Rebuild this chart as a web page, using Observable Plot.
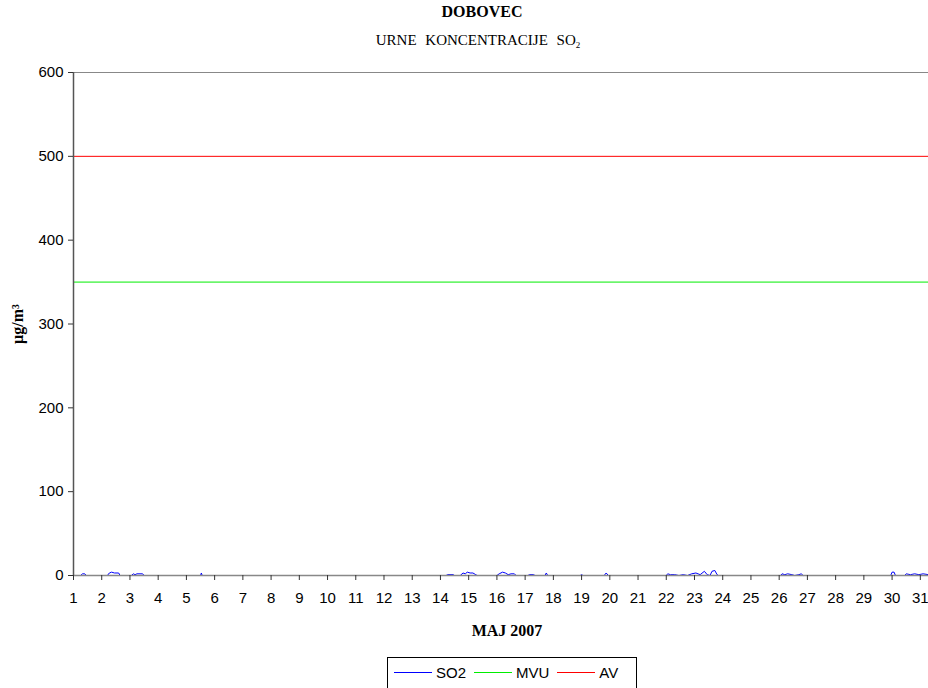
<!DOCTYPE html>
<html>
<head>
<meta charset="utf-8">
<script src="https://cdn.jsdelivr.net/npm/d3@7"></script>
<script src="https://cdn.jsdelivr.net/npm/@observablehq/plot@0.6"></script>
<style>
  html, body { margin: 0; padding: 0; background: #fff; width: 928px; overflow: hidden; }
  #head { height: 56px; position: relative; font-family: "Liberation Serif", serif; color: #000; }
  #t1 { position: absolute; left: 0; width: 964px; top: 3px; text-align: center; font-weight: bold; font-size: 16px; }
  #t2 { position: absolute; left: 0; width: 956px; top: 32px; text-align: center; font-size: 15px; word-spacing: 5px; }
  #t2 sub { font-size: 9px; vertical-align: -3px; }
  #chart svg { display: block; }
  #legend { position: relative; margin-left: 387px; margin-top: 7px; width: 250px; height: 40px; border: 1px solid #000; box-sizing: border-box;
            font-family: "Liberation Sans", Arial, sans-serif; font-size: 15px; display: flex; align-items: flex-start; padding-top: 6px; padding-left: 6px; }
  .item { display: flex; align-items: center; margin-right: 8px; }
  .sw { width: 38px; height: 0; border-top: 1px solid; margin-right: 4px; }
</style>
</head>
<body>
<div id="head">
  <div id="t1">DOBOVEC</div>
  <div id="t2">URNE KONCENTRACIJE SO<sub>2</sub></div>
</div>
<div id="chart"></div>
<div id="legend"></div>
<script>
// ---- data ----
const dayTicks = d3.range(1, 32);
const yTicks = [0, 100, 200, 300, 400, 500, 600];
const limitNames = ["MVU", "AV"];
const limitValues = [350, 500];
const limitColors = ["#00ee00", "#ff0000"];
const seriesNames = ["SO2", "MVU", "AV"];
const seriesColors = ["#0000ff", "#00ee00", "#ff0000"];

// hourly SO2 (day position within May 2007, µg/m3)
const so2Days = [1.00,1.25,1.32,1.40,1.45,2.20,2.27,2.35,2.45,2.60,2.65,3.05,3.12,3.18,3.25,3.45,3.50,5.50,5.53,5.56,
  14.20,14.25,14.45,14.50,14.70,14.80,14.88,14.95,15.05,15.15,15.25,15.30,16.00,16.08,16.20,16.30,16.40,16.50,16.62,16.68,
  17.10,17.15,17.30,17.35,17.70,17.75,17.80,18.95,19.00,19.05,19.80,19.87,19.95,
  22.00,22.05,22.15,22.30,22.45,22.60,22.75,22.90,23.05,23.20,23.35,23.45,23.55,23.62,23.72,23.80,23.85,
  26.05,26.10,26.20,26.30,26.45,26.55,26.70,26.78,26.85,29.95,30.00,30.07,30.12,30.45,30.50,30.65,30.80,30.95,31.10,31.29];
const so2Values = [0,0,2,2,0,0,3,4,3,3,0,0,2,1,2,2,0,0,3,0,
  0,1,1,0,0,3,2,4,3,3,1,0,0,2,4,3,1,2,2,0,
  0,1,1,0,0,3,0,0,1,0,0,3,0,
  0,2,1,1,0,1,0,2,3,1,5,1,0,5,6,1,0,
  0,2,1,2,1,0,1,2,0,0,4,4,0,0,2,1,2,1,2,1];

const so2 = so2Days.map((d, i) => ({day: d, value: so2Values[i]}));
const limits = limitNames.map((n, i) => ({name: n, value: limitValues[i], color: limitColors[i]}));

const plot = Plot.plot({
  width: 928,
  height: 594,
  marginTop: 16,
  marginBottom: 75,
  marginLeft: 73,
  marginRight: 0,
  style: {fontFamily: "Liberation Sans, Arial, sans-serif", fontSize: "15px", color: "#000", background: "#fff"},
  x: {domain: [1, 31.29], ticks: dayTicks, label: null},
  y: {domain: [0, 600], ticks: yTicks, label: null},
  marks: [
    Plot.ruleY([600], {stroke: "#888", strokeWidth: 1}),
    Plot.ruleY(limits, {y: "value", stroke: "color", strokeWidth: 1}),
    Plot.line(so2, {x: "day", y: "value", stroke: seriesColors[0], strokeWidth: 1}),
    Plot.ruleY([0], {stroke: "#888", strokeWidth: 1.5}),
    Plot.ruleX([1], {stroke: "#555", strokeWidth: 1.5}),
    Plot.axisX({ticks: dayTicks, tickSize: 5, tickPadding: 12, stroke: "#333", tickFormat: d => String(d), fontSize: 15}),
    Plot.axisY({ticks: yTicks, tickSize: 5, tickPadding: 5, stroke: "#333", fontSize: 15}),
    Plot.text(["MAJ 2007"], {frameAnchor: "bottom", dx: 6, dy: 60, fontWeight: "bold", fontFamily: "Liberation Serif, serif", fontSize: 16}),
    Plot.text(["µg/m³"], {frameAnchor: "left", textAnchor: "middle", dx: -56, rotate: -90, fontWeight: "bold", fontFamily: "Liberation Serif, serif", fontSize: 16})
  ]
});
document.getElementById("chart").appendChild(plot);

const legend = document.getElementById("legend");
seriesNames.forEach((n, i) => {
  const it = document.createElement("div");
  it.className = "item";
  const sw = document.createElement("div");
  sw.className = "sw";
  sw.style.borderTopColor = seriesColors[i];
  const tx = document.createElement("span");
  tx.textContent = n;
  it.appendChild(sw); it.appendChild(tx);
  legend.appendChild(it);
});
</script>
</body>
</html>
